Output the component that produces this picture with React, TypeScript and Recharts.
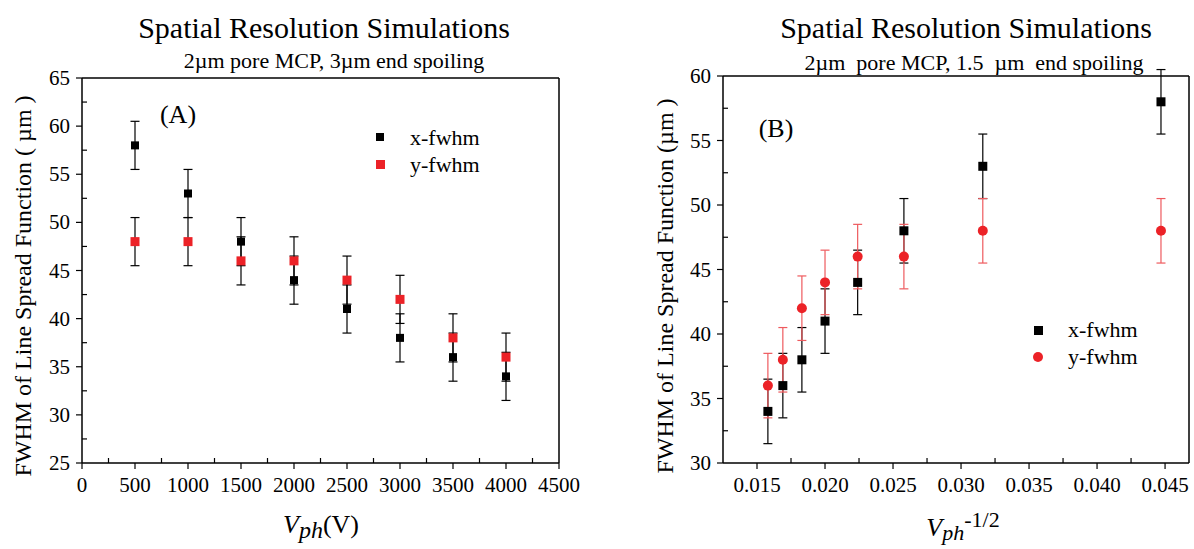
import React from "react";
import { ScatterChart, Scatter, XAxis, YAxis, ErrorBar } from "recharts";

// (A) FWHM vs photocathode voltage
const voltage = [500, 1000, 1500, 2000, 2500, 3000, 3500, 4000];
const xFwhmA = [58, 53, 48, 44, 41, 38, 36, 34];
const yFwhmA = [48, 48, 46, 46, 44, 42, 38, 36];
const xErrA = [2.5, 2.5, 2.5, 2.5, 2.5, 2.5, 2.5, 2.5];
const yErrA = [2.5, 2.5, 2.5, 2.5, 2.5, 2.5, 2.5, 2.5];

// (B) FWHM vs Vph^-1/2
const invSqrtV = [0.0158, 0.0169, 0.0183, 0.02, 0.0224, 0.0258, 0.0316, 0.0447];
const xFwhmB = [34, 36, 38, 41, 44, 48, 53, 58];
const yFwhmB = [36, 38, 42, 44, 46, 46, 48, 48];
const xErrB = [2.5, 2.5, 2.5, 2.5, 2.5, 2.5, 2.5, 2.5];
const yErrB = [2.5, 2.5, 2.5, 2.5, 2.5, 2.5, 2.5, 2.5];

const xTicksA = [0, 250, 500, 750, 1000, 1250, 1500, 1750, 2000, 2250, 2500, 2750, 3000, 3250, 3500, 3750, 4000, 4250, 4500];
const yTicksA = [25, 27.5, 30, 32.5, 35, 37.5, 40, 42.5, 45, 47.5, 50, 52.5, 55, 57.5, 60, 62.5, 65];
const xTicksB = [0.015, 0.0175, 0.02, 0.0225, 0.025, 0.0275, 0.03, 0.0325, 0.035, 0.0375, 0.04, 0.0425, 0.045];
const yTicksB = [30, 32.5, 35, 37.5, 40, 42.5, 45, 47.5, 50, 52.5, 55, 57.5, 60];

const FONT = "'Liberation Serif', 'Times New Roman', serif";
const RED = "#ec2227";
const RED_BAR = "#ee5a5e";

const toRows = (xs: number[], ys: number[], es: number[]) =>
  xs.map((x, i) => ({ x, y: ys[i], err: es[i] }));

const dataAx = toRows(voltage, xFwhmA, xErrA);
const dataAy = toRows(voltage, yFwhmA, yErrA);
const dataBx = toRows(invSqrtV, xFwhmB, xErrB);
const dataBy = toRows(invSqrtV, yFwhmB, yErrB);

type Side = "bottom" | "left" | "top" | "right";

function makeTick(side: Side, isMajor: (v: number) => boolean, fmt?: (v: number) => string) {
  return (props: any) => {
    const { x, y, payload } = props;
    const v = payload.value;
    const major = isMajor(v);
    let l = [x, y, x, y];
    if (side === "bottom") l = major ? [x, y, x, y + 6] : [x, y, x, y - 5];
    if (side === "left") l = major ? [x, y, x - 6, y] : [x, y, x + 5, y];
    if (side === "top") l = [x, y, x, y + (major ? 7 : 4)];
    if (side === "right") l = [x, y, x - (major ? 7 : 4), y];
    return (
      <g>
        <line x1={l[0]} y1={l[1]} x2={l[2]} y2={l[3]} stroke="#000" strokeWidth={1.2} />
        {major && fmt && side === "bottom" && (
          <text x={x} y={y + 29} textAnchor="middle" fontSize={21} fontFamily={FONT} fill="#000">
            {fmt(v)}
          </text>
        )}
        {major && fmt && side === "left" && (
          <text x={x - 12} y={y + 7} textAnchor="end" fontSize={21} fontFamily={FONT} fill="#000">
            {fmt(v)}
          </text>
        )}
      </g>
    );
  };
}

const every = (step: number) => (v: number) => Math.abs(v / step - Math.round(v / step)) < 1e-6;

const square = (size: number, fill: string) => (p: any) =>
  <rect x={p.cx - size / 2} y={p.cy - size / 2} width={size} height={size} fill={fill} />;
const circle = (r: number, fill: string) => (p: any) =>
  <circle cx={p.cx} cy={p.cy} r={r} fill={fill} />;

const axisLine = { stroke: "#000", strokeWidth: 1.5 };

function ChartA() {
  return (
    <ScatterChart width={600} height={549} margin={{ top: 68, right: 31, bottom: 46, left: 0 }}>
      <XAxis type="number" dataKey="x" domain={[0, 4500]} ticks={xTicksA} interval={0} allowDataOverflow
        height={40} tickSize={0} tickMargin={0} axisLine={axisLine} tickLine={false}
        tick={makeTick("bottom", every(500), (v) => String(v))} />
      <XAxis xAxisId="top" orientation="top" type="number" domain={[0, 4500]} ticks={xTicksA} interval={0}
        height={10} tickSize={0} tickMargin={0} axisLine={axisLine} tickLine={false}
        tick={makeTick("top", every(500))} />
      <YAxis type="number" dataKey="y" domain={[25, 65]} ticks={yTicksA} interval={0} allowDataOverflow
        width={82} tickSize={0} tickMargin={0} axisLine={axisLine} tickLine={false}
        tick={makeTick("left", every(5), (v) => String(v))} />
      <YAxis yAxisId="right" orientation="right" type="number" domain={[25, 65]} ticks={yTicksA} interval={0}
        width={10} tickSize={0} tickMargin={0} axisLine={axisLine} tickLine={false}
        tick={makeTick("right", every(5))} />
      <Scatter name="x-fwhm" data={dataAx} shape={square(8, "#000")} isAnimationActive={false}>
        <ErrorBar dataKey="err" direction="y" width={4.5} stroke="#000" strokeWidth={1.2} />
      </Scatter>
      <Scatter name="y-fwhm" data={dataAy} shape={square(9, RED)} isAnimationActive={false}>
        <ErrorBar dataKey="err" direction="y" width={4.5} stroke="#000" strokeWidth={1.2} />
      </Scatter>
    </ScatterChart>
  );
}

function ChartB() {
  return (
    <ScatterChart width={594} height={549} margin={{ top: 66, right: 0, bottom: 46, left: 0 }}>
      <XAxis type="number" dataKey="x" domain={[0.0125, 0.04676]} ticks={xTicksB} interval={0} allowDataOverflow
        height={40} tickSize={0} tickMargin={0} axisLine={axisLine} tickLine={false}
        tick={makeTick("bottom", every(0.005), (v) => v.toFixed(3))} />
      <XAxis xAxisId="top" orientation="top" type="number" domain={[0.0125, 0.04676]} ticks={xTicksB} interval={0}
        allowDataOverflow height={10} tickSize={0} tickMargin={0} axisLine={axisLine} tickLine={false}
        tick={makeTick("top", every(0.005))} />
      <YAxis type="number" dataKey="y" domain={[30, 60]} ticks={yTicksB} interval={0} allowDataOverflow
        width={123} tickSize={0} tickMargin={0} axisLine={axisLine} tickLine={false}
        tick={makeTick("left", every(5), (v) => String(v))} />
      <YAxis yAxisId="right" orientation="right" type="number" domain={[30, 60]} ticks={yTicksB} interval={0}
        width={5} tickSize={0} tickMargin={0} axisLine={axisLine} tickLine={false}
        tick={makeTick("right", every(5))} />
      <Scatter name="x-fwhm" data={dataBx} shape={square(9, "#000")} isAnimationActive={false}>
        <ErrorBar dataKey="err" direction="y" width={4.5} stroke="#000" strokeWidth={1.2} />
      </Scatter>
      <Scatter name="y-fwhm" data={dataBy} shape={circle(5, RED)} isAnimationActive={false}>
        <ErrorBar dataKey="err" direction="y" width={4.5} stroke={RED_BAR} strokeWidth={1.2} />
      </Scatter>
    </ScatterChart>
  );
}

function Texts() {
  const t = { fontFamily: FONT, fill: "#000" };
  return (
    <svg width={1194} height={549} style={{ position: "absolute", left: 0, top: 0, pointerEvents: "none" }}>
      {/* panel A */}
      <text {...t} x={324} y={38} fontSize={30} textAnchor="middle">Spatial Resolution Simulations</text>
      <text {...t} x={334} y={68} fontSize={22} textAnchor="middle">2µm pore MCP, 3µm end spoiling</text>
      <text {...t} x={178} y={123} fontSize={26} textAnchor="middle">(A)</text>
      <rect x={376} y={133} width={8} height={8} fill="#000" />
      <text {...t} x={410} y={145} fontSize={22}>x-fwhm</text>
      <rect x={376} y={160} width={9} height={9} fill={RED} />
      <text {...t} x={410} y={172} fontSize={22}>y-fwhm</text>
      <text {...t} x={31} y={286} fontSize={24} textAnchor="middle" transform="rotate(-90 31 286)">
        FWHM of Line Spread Function ( µm )
      </text>
      <text {...t} x={321} y={533} fontSize={26} textAnchor="middle">
        <tspan fontStyle="italic">V</tspan>
        <tspan fontStyle="italic" fontSize={24} dy={5}>ph</tspan>
        <tspan dy={-5}>(V)</tspan>
      </text>
      {/* panel B */}
      <text {...t} x={966} y={38} fontSize={30} textAnchor="middle">Spatial Resolution Simulations</text>
      <text {...t} x={974} y={70} fontSize={22} textAnchor="middle" style={{ whiteSpace: "pre" }}>
        2µm  pore MCP, 1.5  µm  end spoiling
      </text>
      <text {...t} x={776} y={137} fontSize={26} textAnchor="middle">(B)</text>
      <rect x={1034} y={326} width={9} height={9} fill="#000" />
      <text {...t} x={1068} y={337} fontSize={22}>x-fwhm</text>
      <circle cx={1038} cy={357} r={5} fill={RED} />
      <text {...t} x={1068} y={364} fontSize={22}>y-fwhm</text>
      <text {...t} x={673} y={286} fontSize={24} textAnchor="middle" transform="rotate(-90 673 286)">
        FWHM of Line Spread Function (µm )
      </text>
      <text {...t} x={963} y={536} fontSize={26} textAnchor="middle">
        <tspan fontStyle="italic">V</tspan>
        <tspan fontStyle="italic" fontSize={22} dy={4}>ph</tspan>
        <tspan fontSize={22} dy={-13}>-1/2</tspan>
      </text>
    </svg>
  );
}

export default function App() {
  return (
    <div style={{ position: "absolute", left: 0, top: 0, width: 1194, height: 549, background: "#fff", overflow: "hidden" }}>
      <div style={{ position: "absolute", left: 0, top: 0 }}>
        <ChartA />
      </div>
      <div style={{ position: "absolute", left: 600, top: 0 }}>
        <ChartB />
      </div>
      <Texts />
    </div>
  );
}
